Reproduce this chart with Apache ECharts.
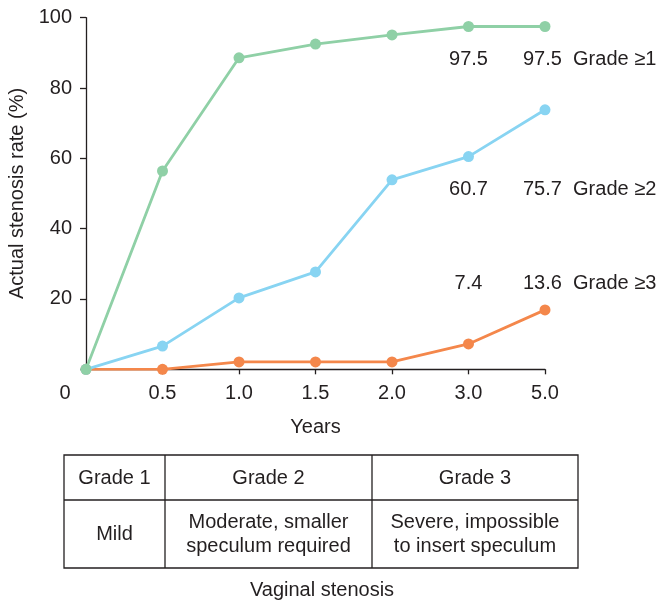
<!DOCTYPE html>
<html><head><meta charset="utf-8">
<script src="https://cdn.jsdelivr.net/npm/echarts@6/dist/echarts.min.js"></script>
<style>html,body{margin:0;padding:0;background:#fff}#c{width:665px;height:602px}</style>
</head><body><div id="c"></div>
<script>
const categories = ['0', '0.5', '1.0', '1.5', '2.0', '3.0', '5.0'];
const grade1 = [0, 56.4, 88.6, 92.5, 95.1, 97.5, 97.5];
const grade2 = [0, 6.6, 20.3, 27.7, 53.9, 60.5, 73.8];
const grade3 = [0, 0, 2.1, 2.1, 2.1, 7.2, 16.9];
const yTicks = [0, 20, 40, 60, 80, 100];
const seriesNames = ['Grade ≥1', 'Grade ≥2', 'Grade ≥3'];
const labels3yr = ['97.5', '60.7', '7.4'];
const labels5yr = ['97.5', '75.7', '13.6'];
const labelLevels = [88.1, 51.1, 24.3];
const tableHeader = ['Grade 1', 'Grade 2', 'Grade 3'];
const tableBody = ['Mild', 'Moderate, smaller\nspeculum required', 'Severe, impossible\nto insert speculum'];
const tableTitle = 'Vaginal stenosis';

const colors = ['#8FD0A6', '#88D4F2', '#F4874B'];
const font = 'Liberation Sans, Arial, sans-serif';
const txt = '#231f20';
const fs = 20;

function mk(name, data, color, i) {
  return {
    name, type: 'line', data, symbol: 'circle', symbolSize: 11,
    lineStyle: { width: 2.8, color }, itemStyle: { color },
    z: 3 - i + 2,
    markPoint: {
      symbol: 'circle', symbolSize: 0, silent: true,
      itemStyle: { color: 'rgba(0,0,0,0)' },
      data: [
        { coord: ['3.0', labelLevels[i]], label: { show: true, position: 'inside', formatter: labels3yr[i], color: txt, fontSize: fs, fontFamily: font, align: 'center', verticalAlign: 'middle' } },
        { coord: ['5.0', labelLevels[i]], label: { show: true, position: 'inside', formatter: labels5yr[i] + '  ' + name, color: txt, fontSize: fs, fontFamily: font, align: 'left', verticalAlign: 'middle', offset: [-22, 0] } }
      ]
    }
  };
}

const chart = echarts.init(document.getElementById('c'));
const cols = [64, 165, 372, 578];
const tTop = 455, tMid = 500, tBot = 568;
const graphics = [
  { type: 'rect', shape: { x: cols[0], y: tTop, width: cols[3] - cols[0], height: tBot - tTop }, style: { fill: 'none', stroke: txt, lineWidth: 1.3 } },
  { type: 'line', shape: { x1: cols[0], y1: tMid, x2: cols[3], y2: tMid }, style: { stroke: txt, lineWidth: 1.3 } },
  { type: 'line', shape: { x1: cols[1], y1: tTop, x2: cols[1], y2: tBot }, style: { stroke: txt, lineWidth: 1.3 } },
  { type: 'line', shape: { x1: cols[2], y1: tTop, x2: cols[2], y2: tBot }, style: { stroke: txt, lineWidth: 1.3 } },
  { type: 'text', x: 322, y: 590, style: { text: tableTitle, fill: txt, font: fs + 'px ' + font, align: 'center', verticalAlign: 'middle' } }
];
for (let i = 0; i < 3; i++) {
  const cx = (cols[i] + cols[i + 1]) / 2;
  graphics.push({ type: 'text', x: cx, y: (tTop + tMid) / 2 + 1, style: { text: tableHeader[i], fill: txt, font: fs + 'px ' + font, align: 'center', verticalAlign: 'middle' } });
  graphics.push({ type: 'text', x: cx, y: (tMid + tBot) / 2, style: { text: tableBody[i], fill: txt, font: fs + 'px ' + font, align: 'center', verticalAlign: 'middle', lineHeight: 24 } });
}

chart.setOption({
  animation: false,
  grid: { left: 86, right: 120, top: 17.7, bottom: 232.7, containLabel: false, outerBoundsMode: 'none' },
  xAxis: {
    type: 'category', data: categories, boundaryGap: false,
    name: 'Years', nameLocation: 'middle', nameGap: 48,
    nameTextStyle: { color: txt, fontSize: fs, fontFamily: font },
    axisLine: { lineStyle: { color: txt, width: 1.3 } },
    axisTick: { alignWithLabel: true, length: 5, lineStyle: { color: txt, width: 1.3 }, interval: (idx) => idx > 0 },
    axisLabel: {
      color: txt, fontSize: fs, fontFamily: font, margin: 14, interval: 0,
      formatter: (v, idx) => idx === 0 ? '{z|' + v + '}' : v,
      rich: { z: { color: txt, fontSize: fs, fontFamily: font, padding: [0, 42, 0, 0] } }
    },
    splitLine: { show: false }
  },
  yAxis: {
    type: 'value', min: 0, max: 100, interval: 20,
    name: 'Actual stenosis rate (%)', nameLocation: 'middle', nameGap: 56,
    nameTextStyle: { color: txt, fontSize: fs, fontFamily: font },
    axisLine: { show: true, lineStyle: { color: txt, width: 1.3 } },
    axisTick: { show: true, length: 6, lineStyle: { color: txt, width: 1.3 } },
    axisLabel: { color: txt, fontSize: fs, fontFamily: font, margin: 14, formatter: v => v === 0 ? '' : String(v) },
    splitLine: { show: false }
  },
  series: [
    mk(seriesNames[0], grade1, colors[0], 0),
    mk(seriesNames[1], grade2, colors[1], 1),
    mk(seriesNames[2], grade3, colors[2], 2)
  ],
  graphic: graphics
});
</script></body></html>
